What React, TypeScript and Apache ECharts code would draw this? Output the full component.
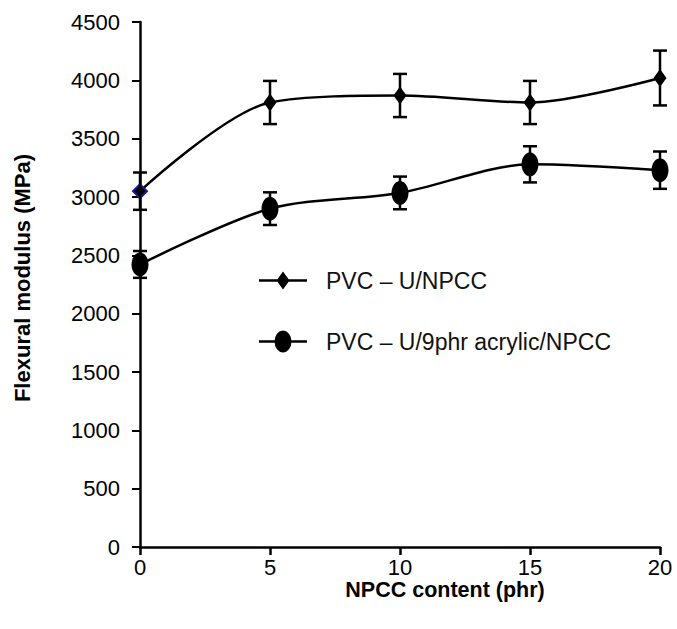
import React, { useEffect, useRef } from "react";
import * as echarts from "echarts";

const xValues = [0, 5, 10, 15, 20];
const unfilledValues = [3050, 3810, 3870, 3810, 4020];
const unfilledErr = [160, 185, 185, 185, 235];
const acrylicValues = [2422, 2900, 3035, 3280, 3230];
const acrylicErr = [115, 140, 140, 155, 160];
const seriesNames = ["PVC – U/NPCC", "PVC – U/9phr acrylic/NPCC"];
const xTitle = "NPCC content (phr)";
const yTitle = "Flexural modulus (MPa)";

const FONT = "Liberation Sans";

const diamondIcon = "path://M0 10.75H48V13.25H0Z M24 3L30.5 12L24 21L17.5 12Z";
const ellipseIcon = "path://M0 10.75H48V13.25H0Z M15.5 12A8.5 11 0 1 1 32.5 12A8.5 11 0 1 1 15.5 12Z";

function errorSeries(vals: number[], errs: number[]) {
  return {
    type: "custom",
    silent: true,
    z: 5,
    data: xValues.map((x, i) => [x, vals[i], errs[i]]),
    renderItem: (params: any, api: any) => {
      const x = api.value(0);
      const y = api.value(1);
      const e = api.value(2);
      const top = api.coord([x, y + e]);
      const bot = api.coord([x, y - e]);
      const hw = 7;
      const style = { stroke: "#000", lineWidth: 2.5 };
      return {
        type: "group",
        children: [
          { type: "line", shape: { x1: top[0], y1: top[1], x2: bot[0], y2: bot[1] }, style },
          { type: "line", shape: { x1: top[0] - hw, y1: top[1], x2: top[0] + hw, y2: top[1] }, style },
          { type: "line", shape: { x1: bot[0] - hw, y1: bot[1], x2: bot[0] + hw, y2: bot[1] }, style },
        ],
      };
    },
  };
}

export default function App() {
  const ref = useRef<HTMLDivElement>(null);
  useEffect(() => {
    const chart = echarts.init(ref.current!, null, { renderer: "svg" });
    chart.setOption({
      animation: false,
      backgroundColor: "#fff",
      grid: { left: 140, right: 17, top: 22, bottom: 82 },
      legend: {
        orient: "vertical",
        left: 254,
        top: 264,
        itemWidth: 48,
        itemHeight: 22,
        itemGap: 38,
        textStyle: { fontFamily: FONT, fontSize: 23, color: "#111", padding: [0, 0, 0, 14] },
        data: [
          { name: seriesNames[0], icon: diamondIcon, itemStyle: { color: "#000" } },
          { name: seriesNames[1], icon: ellipseIcon, itemStyle: { color: "#000" } },
        ],
      },
      xAxis: {
        type: "value",
        min: 0,
        max: 20,
        interval: 5,
        axisLine: { lineStyle: { color: "#000", width: 2.5 } },
        axisTick: { length: 8, lineStyle: { color: "#000", width: 2.5 } },
        axisLabel: { fontFamily: FONT, fontSize: 22, color: "#000", margin: 9 },
        splitLine: { show: false },
      },
      yAxis: {
        type: "value",
        min: 0,
        max: 4500,
        interval: 500,
        axisLine: { show: true, lineStyle: { color: "#000", width: 2.5 } },
        axisTick: { show: true, length: 8, lineStyle: { color: "#000", width: 2 } },
        axisLabel: { fontFamily: FONT, fontSize: 22, color: "#000", margin: 20, formatter: (v: number) => String(v) },
        splitLine: { show: false },
      },
      graphic: [
        {
          type: "text",
          x: 445,
          y: 590,
          style: {
            text: xTitle,
            fontFamily: FONT,
            fontWeight: "bold",
            fontSize: 21.5,
            fill: "#000",
            textAlign: "center",
            textVerticalAlign: "middle",
          },
        },
        {
          type: "text",
          x: 22,
          y: 278,
          rotation: Math.PI / 2,
          style: {
            text: yTitle,
            fontFamily: FONT,
            fontWeight: "bold",
            fontSize: 22,
            fill: "#000",
            textAlign: "center",
            textVerticalAlign: "middle",
          },
        },
      ],
      series: [
        {
          name: seriesNames[0],
          type: "line",
          smooth: 0.3,
          symbol: "diamond",
          symbolSize: [13, 18],
          lineStyle: { color: "#000", width: 2.5 },
          itemStyle: { color: "#000" },
          z: 3,
          data: xValues.map((x, i) =>
            i === 0
              ? { value: [x, unfilledValues[i]], symbolSize: [14, 14], itemStyle: { color: "#000", borderColor: "#1a1a9a", borderWidth: 2 } }
              : [x, unfilledValues[i]]
          ),
        },
        {
          name: seriesNames[1],
          type: "line",
          smooth: 0.3,
          symbol: "circle",
          symbolSize: [17, 24],
          lineStyle: { color: "#000", width: 2.5 },
          itemStyle: { color: "#000" },
          z: 3,
          data: xValues.map((x, i) => [x, acrylicValues[i]]),
        },
        errorSeries(unfilledValues, unfilledErr),
        errorSeries(acrylicValues, acrylicErr),
      ],
    });
    return () => chart.dispose();
  }, []);
  return <div ref={ref} style={{ width: 677, height: 629, position: "absolute", left: 0, top: 0 }} />;
}
